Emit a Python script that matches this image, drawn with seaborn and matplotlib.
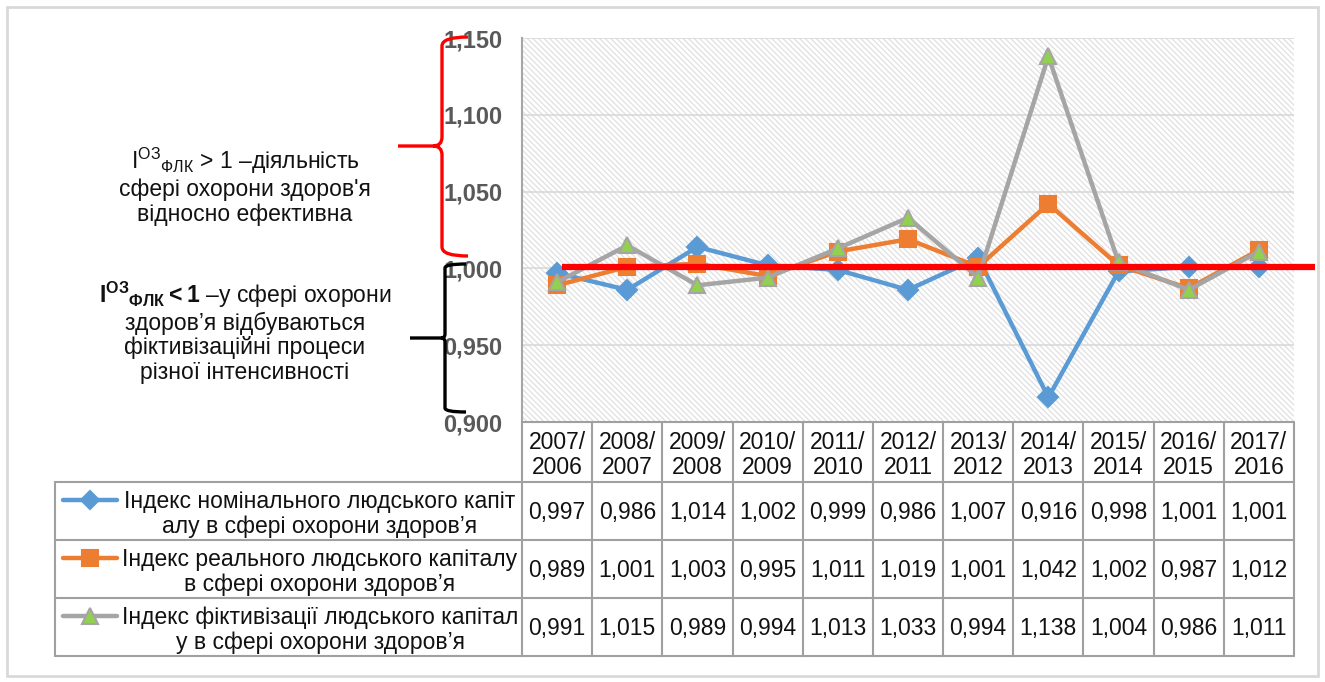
import numpy as np
import pandas as pd
import matplotlib
matplotlib.use('Agg')
import matplotlib.pyplot as plt
import seaborn as sns
from matplotlib.path import Path
from matplotlib.patches import PathPatch, Rectangle
from matplotlib.lines import Line2D

# Data
periods = ['2007/\n2006', '2008/\n2007', '2009/\n2008', '2010/\n2009', '2011/\n2010',
           '2012/\n2011', '2013/\n2012', '2014/\n2013', '2015/\n2014', '2016/\n2015',
           '2017/\n2016']
nominal = [0.997, 0.986, 1.014, 1.002, 0.999, 0.986, 1.007, 0.916, 0.998, 1.001, 1.001]
real = [0.989, 1.001, 1.003, 0.995, 1.011, 1.019, 1.001, 1.042, 1.002, 0.987, 1.012]
fictive = [0.991, 1.015, 0.989, 0.994, 1.013, 1.033, 0.994, 1.138, 1.004, 0.986, 1.011]
series_names = ['Індекс номінального людського капіт\nалу в сфері охорони здоров’я',
                'Індекс реального людського капіталу\nв сфері охорони здоров’я',
                'Індекс фіктивізації людського капітал\nу в сфері охорони здоров’я']
y_ticks = [0.900, 0.950, 1.000, 1.050, 1.100, 1.150]
threshold = 1.001

sns.set_theme(style='white')
plt.rcParams['font.family'] = ['Liberation Sans', 'DejaVu Sans']
plt.rcParams['mathtext.fontset'] = 'custom'
plt.rcParams['mathtext.rm'] = 'Liberation Sans'
plt.rcParams['mathtext.bf'] = 'Liberation Sans:bold'
plt.rcParams['hatch.linewidth'] = 0.9

W, H = 1325, 682
fig = plt.figure(figsize=(W / 100, H / 100), dpi=100)


def fx(px):
    return px / W


def fy(py):
    return 1 - py / H


# Plot area in pixels
L, R, T, B = 522, 1294, 38, 422
ax = fig.add_axes([fx(L), fy(B), fx(R) - fx(L), fy(T) - fy(B)])

df = pd.DataFrame({'pos': np.arange(len(periods)), 'nominal': nominal,
                   'real': real, 'fictive': fictive})

styles = [
    dict(col='nominal', color='#5B9BD5', marker='D', ms=10, mfc='#5B9BD5', mec='#5B9BD5'),
    dict(col='real', color='#ED7D31', marker='s', ms=12, mfc='#ED7D31', mec='#ED7D31'),
    dict(col='fictive', color='#A5A5A5', marker='^', ms=12, mfc='#92D050', mec='#A5A5A5'),
]

ax.add_patch(Rectangle((0, 0), 1, 1, transform=ax.transAxes, fill=False,
                       hatch='\\\\\\\\\\\\', edgecolor='#e0e0e0', lw=0, zorder=0))

for s in styles:
    sns.lineplot(data=df, x='pos', y=s['col'], ax=ax, color=s['color'], lw=3.2,
                 marker=s['marker'], markersize=s['ms'], markerfacecolor=s['mfc'],
                 markeredgecolor=s['mec'], markeredgewidth=1.5, zorder=3)

# red threshold line
ax.plot([0.07, 10.8], [threshold, threshold], color='#FF0000', lw=4.5,
        clip_on=False, zorder=4, solid_capstyle='butt')

ax.set_xlim(-0.5, len(periods) - 0.5)
ax.set_ylim(0.9, 1.15)
ax.set_yticks(y_ticks)
ax.set_yticklabels([f'{v:.3f}'.replace('.', ',') for v in y_ticks],
                   fontsize=17, fontweight='bold', color='#595959')
ax.tick_params(axis='y', length=0, pad=14)
ax.set_xticks([])
ax.set_xlabel('')
ax.set_ylabel('')
ax.grid(axis='y', color='#d9d9d9', lw=1.2)
for side in ['top', 'right', 'bottom']:
    ax.spines[side].set_visible(False)
ax.spines['left'].set_color('#a6a6a6')
ax.spines['left'].set_linewidth(1.5)

# data table
col_w = (R - L) / len(periods)
row_y = [B, 482, 540, 598, 656]
grid_c = '#a0a0a0'
fs = 16.5
for yy in row_y[1:]:
    fig.add_artist(Line2D([fx(55), fx(R)], [fy(yy), fy(yy)], color=grid_c, lw=1.5))
fig.add_artist(Line2D([fx(L), fx(R)], [fy(B), fy(B)], color=grid_c, lw=1.5))
fig.add_artist(Line2D([fx(55), fx(55)], [fy(482), fy(656)], color=grid_c, lw=1.5))
for k in range(len(periods) + 1):
    xx = L + k * col_w
    fig.add_artist(Line2D([fx(xx), fx(xx)], [fy(B), fy(656)], color=grid_c, lw=1.5))

for i, p in enumerate(periods):
    cx = L + (i + 0.5) * col_w
    fig.text(fx(cx), fy((B + 482) / 2 + 3), p, ha='center', va='center',
             fontsize=fs, linespacing=1.15, color='#111111')
    for r, vals in enumerate([nominal, real, fictive]):
        cy = (row_y[r + 1] + row_y[r + 2]) / 2
        fig.text(fx(cx), fy(cy + 2), f'{vals[i]:.3f}'.replace('.', ','), ha='center',
                 va='center', fontsize=fs, color='#111111')

for r, (name, s) in enumerate(zip(series_names, styles)):
    top = row_y[r + 1]
    cy = (row_y[r + 1] + row_y[r + 2]) / 2
    ly = top + 18
    fig.add_artist(Line2D([fx(63), fx(117)], [fy(ly), fy(ly)], color=s['color'], lw=3.2,
                          solid_capstyle='round'))
    fig.add_artist(Line2D([fx(90)], [fy(ly)], marker=s['marker'], ms=s['ms'] - 1,
                          mfc=s['mfc'], mec=s['mec'], mew=1.5, lw=0))
    fig.text(fx(320), fy(cy + 3), name, ha='center', va='center', multialignment='center',
             fontsize=fs, linespacing=1.08, color='#111111')


# braces
def brace(x, top, bot, mid, tip, hook, color, r=10):
    verts = [(hook, top), (x, top), (x, top + r), (x, mid - r), (x, mid), (x - r, mid),
             (tip, mid), (x - r, mid), (x, mid), (x, mid + r), (x, bot - r), (x, bot),
             (hook, bot)]
    codes = [Path.MOVETO, Path.CURVE3, Path.CURVE3, Path.LINETO, Path.CURVE3, Path.CURVE3,
             Path.LINETO, Path.MOVETO, Path.CURVE3, Path.CURVE3, Path.LINETO, Path.CURVE3,
             Path.CURVE3]
    verts = [(fx(a), fy(b)) for a, b in verts]
    fig.add_artist(PathPatch(Path(verts, codes), fill=False, edgecolor=color, lw=2.4,
                             transform=fig.transFigure, capstyle='butt'))


brace(442, 37, 256, 146, 398, 468, '#FF0000', r=9)
brace(445, 264, 412, 338, 410, 466, '#000000', r=4)

fig.text(fx(245), fy(186), '$\\mathregular{I^{ОЗ}{}_{ФЛК}}$ > 1 –діяльність\n'
         'сфері охорони здоров\'я\nвідносно ефективна', ha='center', va='center',
         fontsize=fs, linespacing=1.1, color='#111111')
fig.text(fx(245), fy(332), '$\\mathbf{I^{ОЗ}{}_{ФЛК}<1}$ –у сфері охорони\n'
         'здоров’я відбуваються\nфіктивізаційні процеси\nрізної інтенсивності',
         ha='center', va='center', fontsize=fs, linespacing=1.08, color='#111111')

# outer frame
fig.add_artist(Rectangle((fx(7), fy(676)), fx(1318) - fx(7), fy(7) - fy(676),
                         transform=fig.transFigure, fill=False, edgecolor='#d9d9d9', lw=2))

fig.savefig('out.png', dpi=100)
